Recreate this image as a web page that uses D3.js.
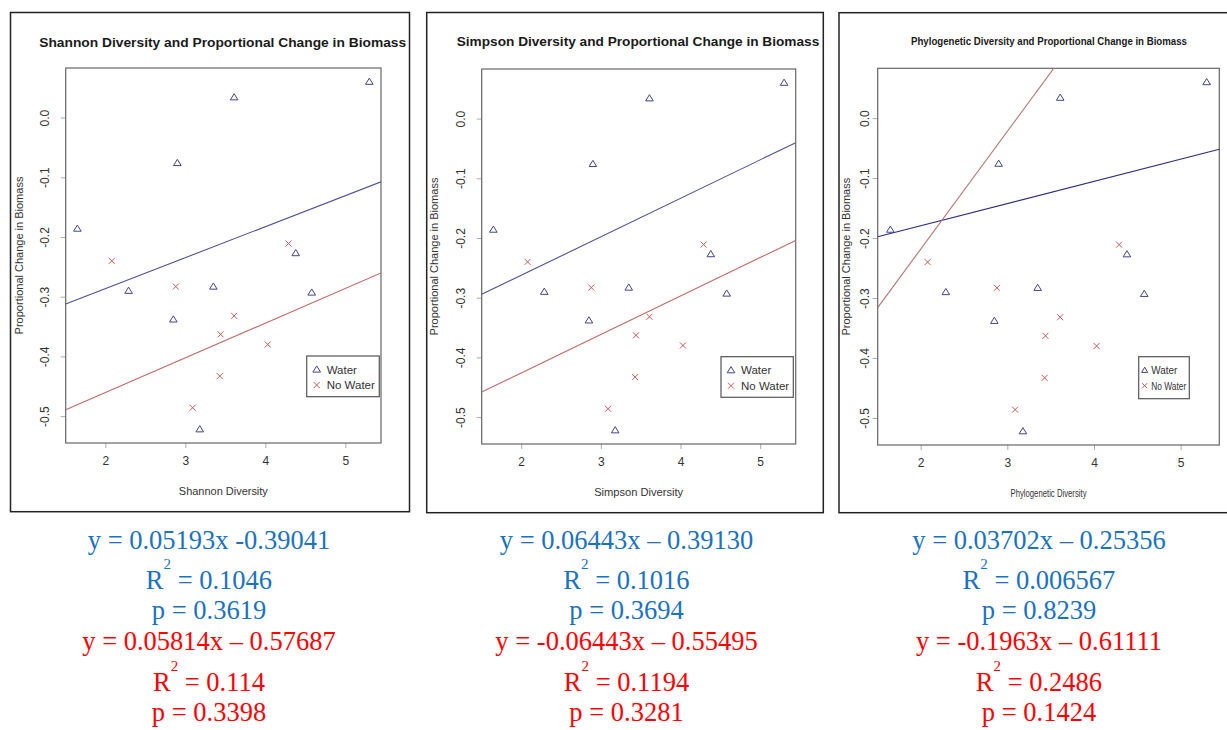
<!DOCTYPE html>
<html>
<head>
<meta charset="utf-8">
<script src="https://cdn.jsdelivr.net/npm/d3@7"></script>
<style>
  body { margin: 0; background: #fff; }
  svg { display: block; }
</style>
</head>
<body>
<svg width="1227" height="730"></svg>
<script>
// points (same plots in all three panels)
var waterX = [5.30, 3.61, 2.90, 1.65, 4.38, 2.29, 3.35, 4.58, 2.85, 3.18];
var waterY = [0.060, 0.034, -0.076, -0.186, -0.227, -0.290, -0.283, -0.293, -0.338, -0.522];
var noWaterX = [4.29, 2.08, 2.88, 3.61, 3.44, 4.03, 3.43, 3.09];
var noWaterY = [-0.211, -0.240, -0.283, -0.332, -0.363, -0.380, -0.433, -0.486];

var titles = ["Shannon Diversity and Proportional Change in Biomass",
              "Simpson Diversity and Proportional Change in Biomass",
              "Phylogenetic Diversity and Proportional Change in Biomass"];
var xLabels = ["Shannon Diversity", "Simpson Diversity", "Phylogenetic Diversity"];
var yLabel = "Proportional Change in Biomass";
var xTicks = [2, 3, 4, 5];
var yTicks = [0, -0.1, -0.2, -0.3, -0.4, -0.5];

// fitted lines as drawn
var waterSlope = [0.05193, 0.06443, 0.03702];
var waterIntercept = [-0.39041, -0.39130, -0.25356];
var noWaterSlope = [0.05814, 0.06443, 0.1963];
var noWaterIntercept = [-0.57687, -0.55495, -0.61111];

// text under each panel
var waterEq = ["y = 0.05193x -0.39041", "y = 0.06443x \u2013 0.39130", "y = 0.03702x \u2013 0.25356"];
var waterR2 = ["0.1046", "0.1016", "0.006567"];
var waterP = ["0.3619", "0.3694", "0.8239"];
var noWaterEq = ["y = 0.05814x \u2013 0.57687", "y = -0.06443x \u2013 0.55495", "y = -0.1963x \u2013 0.61111"];
var noWaterR2 = ["0.114", "0.1194", "0.2486"];
var noWaterP = ["0.3398", "0.3281", "0.1424"];

var xDomain = [1.504, 5.446];
var yDomain = [-0.545, 0.083];

var layout = [
  {frame: [10.5, 12.5, 409.5, 511.7], plot: [65.7, 68, 381, 443], cx: 209,
   titleX: 222.7, titleY: 46.5, titleW: 367, titleFs: 13, yLabX: 18.5, tickOff: 16.5,
   xlabW: 89, xlabFs: 11, legend: [306.7, 356, 379.3, 396.7], legW: null, legFs: 11.5},
  {frame: [426.7, 12.5, 823.3, 512.7], plot: [481.7, 69, 795.7, 444], cx: 626.5,
   titleX: 638, titleY: 46, titleW: 362.6, titleFs: 13, yLabX: 433.5, tickOff: 16.5,
   xlabW: 89, xlabFs: 11, legend: [721, 356.7, 793.3, 397.3], legW: null, legFs: 11.5},
  {frame: [839, 12.7, 1240, 512.7], plot: [877.7, 68.3, 1219.3, 445], cx: 1039,
   titleX: 1049, titleY: 45, titleW: 276, titleFs: 11, yLabX: 845.5, tickOff: 8.5,
   xlabW: 76, xlabFs: 10.5, legend: [1138.7, 356.7, 1189.3, 398.7], legW: [26, 35], legFs: 11}
];

var svg = d3.select("svg");
var sans = "'Liberation Sans', Arial, sans-serif";
var serif = "'Liberation Serif', 'Times New Roman', serif";
var blueMark = "#44448c", redMark = "#c25a5a";
var blueLine = ["#50509a", "#50509a", "#2e2e84"];
var redLine = ["#c46a6a", "#c46a6a", "#b27474"];
var blueText = "#1a72c2", redText = "#ff0000";

var triangle = {
  draw: function(ctx, s) {
    ctx.moveTo(0, -3.6);
    ctx.lineTo(3.8, 2.6);
    ctx.lineTo(-3.8, 2.6);
    ctx.closePath();
  }
};
var smallTriangle = {
  draw: function(ctx, s) {
    ctx.moveTo(0, -3);
    ctx.lineTo(3, 2.2);
    ctx.lineTo(-3, 2.2);
    ctx.closePath();
  }
};
var cross = {
  draw: function(ctx, s) {
    ctx.moveTo(-3, -3); ctx.lineTo(3, 3);
    ctx.moveTo(-3, 3); ctx.lineTo(3, -3);
  }
};
var smallCross = {
  draw: function(ctx, s) {
    ctx.moveTo(-2.5, -2.5); ctx.lineTo(2.5, 2.5);
    ctx.moveTo(-2.5, 2.5); ctx.lineTo(2.5, -2.5);
  }
};

layout.forEach(function(L, i) {
  var g = svg.append("g");
  var p = L.plot;

  g.append("rect")
    .attr("x", L.frame[0]).attr("y", L.frame[1])
    .attr("width", L.frame[2] - L.frame[0]).attr("height", L.frame[3] - L.frame[1])
    .attr("fill", "none").attr("stroke", "#222").attr("stroke-width", 1.5);

  var x = d3.scaleLinear().domain(xDomain).range([p[0], p[2]]);
  var y = d3.scaleLinear().domain(yDomain).range([p[3], p[1]]);

  g.append("text")
    .attr("x", L.titleX).attr("y", L.titleY)
    .attr("text-anchor", "middle")
    .attr("textLength", L.titleW).attr("lengthAdjust", "spacingAndGlyphs")
    .style("font-family", sans).style("font-weight", "bold")
    .style("font-size", L.titleFs + "px").attr("fill", "#1a1a1a")
    .text(titles[i]);

  var clipId = "clip" + i;
  g.append("clipPath").attr("id", clipId)
    .append("rect").attr("x", p[0]).attr("y", p[1])
    .attr("width", p[2] - p[0]).attr("height", p[3] - p[1]);

  // axes
  var xa = g.append("g").attr("transform", "translate(0," + p[3] + ")")
    .call(d3.axisBottom(x).tickValues(xTicks).tickSize(5).tickPadding(8).tickFormat(d3.format("d")));
  xa.select(".domain").remove();
  xa.selectAll("line").attr("stroke", "#aaa");
  xa.selectAll("text").style("font-family", sans).style("font-size", "12px").attr("fill", "#333");

  var ya = g.append("g").attr("transform", "translate(" + p[0] + ",0)")
    .call(d3.axisLeft(y).tickValues(yTicks).tickSize(5).tickFormat(function(d) { return d.toFixed(1); }));
  ya.select(".domain").remove();
  ya.selectAll("line").attr("stroke", "#aaa");
  ya.selectAll("text")
    .attr("transform", "rotate(-90)")
    .attr("x", 0).attr("y", -L.tickOff).attr("dy", 0)
    .attr("text-anchor", "middle")
    .style("font-family", sans).style("font-size", "12px").attr("fill", "#333");

  g.append("rect")
    .attr("x", p[0]).attr("y", p[1])
    .attr("width", p[2] - p[0]).attr("height", p[3] - p[1])
    .attr("fill", "none").attr("stroke", "#666").attr("stroke-width", 1.2);

  g.append("text")
    .attr("x", (p[0] + p[2]) / 2).attr("y", p[3] + 52)
    .attr("text-anchor", "middle")
    .attr("textLength", L.xlabW).attr("lengthAdjust", "spacingAndGlyphs")
    .style("font-family", sans).style("font-size", L.xlabFs + "px").attr("fill", "#333")
    .text(xLabels[i]);

  g.append("text")
    .attr("transform", "translate(" + (L.yLabX + 4) + "," + ((p[1] + p[3]) / 2) + ") rotate(-90)")
    .attr("text-anchor", "middle")
    .style("font-family", sans).style("font-size", "11px").attr("fill", "#333")
    .text(yLabel);

  // regression lines
  var line = d3.line().x(function(d) { return x(d[0]); }).y(function(d) { return y(d[1]); });
  var lines = g.append("g").attr("clip-path", "url(#" + clipId + ")");
  lines.append("path")
    .attr("d", line(xDomain.map(function(v) { return [v, waterSlope[i] * v + waterIntercept[i]]; })))
    .attr("fill", "none").attr("stroke", blueLine[i]).attr("stroke-width", 1.1);
  lines.append("path")
    .attr("d", line(xDomain.map(function(v) { return [v, noWaterSlope[i] * v + noWaterIntercept[i]]; })))
    .attr("fill", "none").attr("stroke", redLine[i]).attr("stroke-width", 1.1);

  // points
  g.selectAll(".tri").data(waterX).enter().append("path")
    .attr("d", d3.symbol().type(triangle))
    .attr("transform", function(d, k) { return "translate(" + x(d) + "," + y(waterY[k]) + ")"; })
    .attr("fill", "none").attr("stroke", blueMark).attr("stroke-width", 1);
  g.selectAll(".crs").data(noWaterX).enter().append("path")
    .attr("d", d3.symbol().type(cross))
    .attr("transform", function(d, k) { return "translate(" + x(d) + "," + y(noWaterY[k]) + ")"; })
    .attr("fill", "none").attr("stroke", redMark).attr("stroke-width", 1);

  // legend
  var lg = L.legend;
  g.append("rect")
    .attr("x", lg[0]).attr("y", lg[1])
    .attr("width", lg[2] - lg[0]).attr("height", lg[3] - lg[1])
    .attr("fill", "#fff").attr("stroke", "#555").attr("stroke-width", 1.2);
  var small = i === 2;
  var items = [["Water", small ? smallTriangle : triangle, blueMark], ["No Water", small ? smallCross : cross, redMark]];
  var dxSym = small ? 6 : 10, dxTxt = small ? 12.5 : 20;
  items.forEach(function(it, k) {
    var cy = lg[1] + 13.5 + k * 15.5;
    g.append("path")
      .attr("d", d3.symbol().type(it[1]))
      .attr("transform", "translate(" + (lg[0] + dxSym) + "," + cy + ")")
      .attr("fill", "none").attr("stroke", it[2]).attr("stroke-width", 1);
    var t = g.append("text")
      .attr("x", lg[0] + dxTxt).attr("y", cy + 4.2)
      .style("font-family", sans).style("font-size", L.legFs + "px").attr("fill", "#333")
      .text(it[0]);
    if (L.legW) t.attr("textLength", L.legW[k]).attr("lengthAdjust", "spacingAndGlyphs");
  });

  // equations
  var rows = [
    {y: 548.5, color: blueText, eq: waterEq[i]},
    {y: 589, color: blueText, r2: waterR2[i]},
    {y: 619, color: blueText, eq: "p = " + waterP[i]},
    {y: 650, color: redText, eq: noWaterEq[i]},
    {y: 691, color: redText, r2: noWaterR2[i]},
    {y: 721, color: redText, eq: "p = " + noWaterP[i]}
  ];
  rows.forEach(function(r) {
    var t = g.append("text")
      .attr("x", L.cx).attr("y", r.y)
      .attr("text-anchor", "middle")
      .style("font-family", serif).style("font-size", "26.5px")
      .attr("fill", r.color);
    if (r.eq) {
      t.text(r.eq);
    } else {
      t.append("tspan").text("R");
      t.append("tspan").attr("dy", -20).style("font-size", "15px").text("2");
      t.append("tspan").attr("dy", 20).text(" = " + r.r2);
    }
  });
});
</script>
</body>
</html>
